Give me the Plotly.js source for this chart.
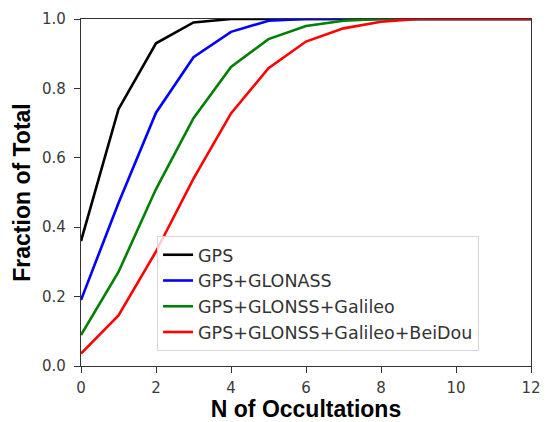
<!DOCTYPE html>
<html>
<head>
<meta charset="utf-8">
<script src="https://cdn.plot.ly/plotly-3.0.1.min.js"></script>
<style>
  body { margin: 0; background: #fff; }
  #chart { width: 550px; height: 422px; }
</style>
</head>
<body>
<div id="chart"></div>
<script>
// number of occultations on the x axis
var nOcc = [0, 1, 2, 3, 4, 5, 6, 7, 8, 9, 10, 11, 12];

// cumulative fraction per constellation set
var gps = [0.36, 0.74, 0.93, 0.99, 1.0, 1.0, 1.0, 1.0, 1.0, 1.0, 1.0, 1.0, 1.0];
var gpsGlonass = [0.19, 0.47, 0.73, 0.89, 0.963, 0.995, 1.0, 1.0, 1.0, 1.0, 1.0, 1.0, 1.0];
var gpsGlonassGalileo = [0.089, 0.271, 0.51, 0.714, 0.862, 0.942, 0.98, 0.995, 1.0, 1.0, 1.0, 1.0, 1.0];
var gpsAll = [0.036, 0.146, 0.33, 0.54, 0.728, 0.858, 0.935, 0.973, 0.992, 1.0, 1.0, 1.0, 1.0];

var names = ['GPS', 'GPS+GLONASS', 'GPS+GLONSS+Galileo', 'GPS+GLONSS+Galileo+BeiDou'];
var colors = ['#000000', '#0000ff', '#008000', '#ff0000'];
var series = [gps, gpsGlonass, gpsGlonassGalileo, gpsAll];

var data = series.map(function (ys, i) {
  return {
    x: nOcc,
    y: ys,
    name: names[i],
    type: 'scatter',
    mode: 'lines',
    line: {color: colors[i], width: 2.6}
  };
});

var tickFont = {family: 'DejaVu Sans, sans-serif', size: 15, color: '#3a3a3a'};
var titleFont = {family: 'Liberation Sans, Arial, sans-serif', size: 23, color: '#000', weight: 'bold'};

var layout = {
  width: 550,
  height: 422,
  margin: {l: 81, r: 19, t: 19, b: 56},
  paper_bgcolor: '#fff',
  plot_bgcolor: '#fff',
  showlegend: true,
  legend: {
    x: 0.169, y: 0.375, xanchor: 'left', yanchor: 'top',
    bordercolor: '#d6d6d6', borderwidth: 1,
    bgcolor: 'rgba(255,255,255,0.8)',
    font: {family: 'DejaVu Sans, sans-serif', size: 17.5, color: '#333'}
  },
  xaxis: {
    range: [0, 12],
    tickvals: [0, 2, 4, 6, 8, 10, 12],
    ticks: 'outside', ticklen: 6, tickcolor: '#333',
    ticklabelstandoff: 2,
    showline: true, linecolor: '#333', linewidth: 1.2, mirror: true,
    showgrid: false, zeroline: false,
    tickfont: tickFont,
    title: {text: 'N of Occultations', font: titleFont, standoff: 0}
  },
  yaxis: {
    range: [0, 1],
    tickvals: [0, 0.2, 0.4, 0.6, 0.8, 1.0],
    tickformat: '.1f',
    ticks: 'outside', ticklen: 6, tickcolor: '#333',
    ticklabelstandoff: 5,
    showline: true, linecolor: '#333', linewidth: 1.2, mirror: true,
    showgrid: false, zeroline: false,
    tickfont: tickFont,
    title: {text: 'Fraction of Total', font: titleFont, standoff: 4}
  }
};

Plotly.newPlot('chart', data, layout, {displayModeBar: false, staticPlot: true});
</script>
</body>
</html>
